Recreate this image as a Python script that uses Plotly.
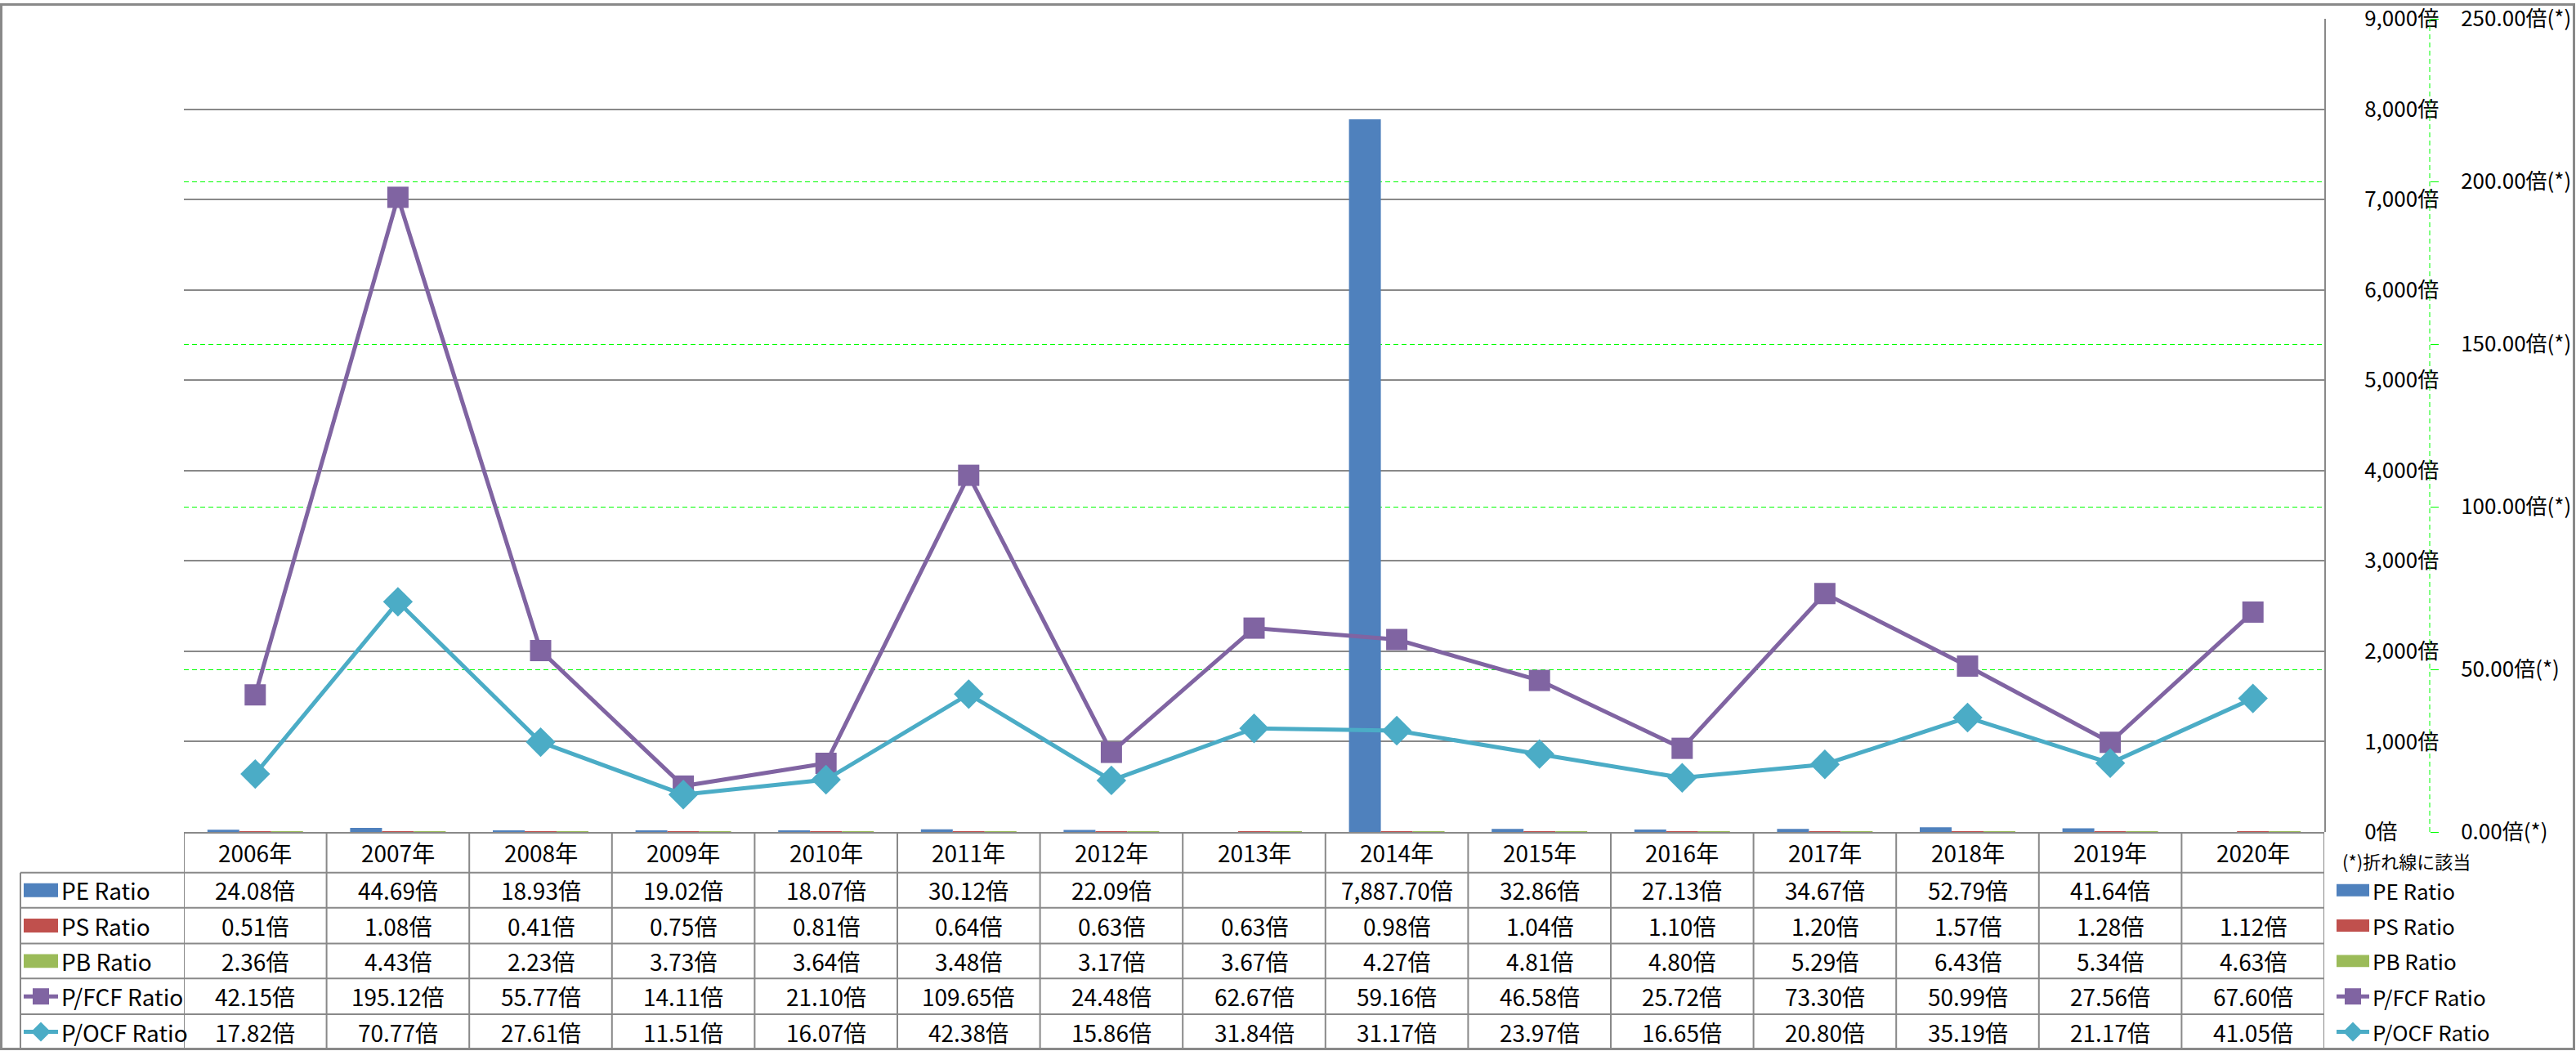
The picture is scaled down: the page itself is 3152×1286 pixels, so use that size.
import plotly.graph_objects as go

# ---------------- data ----------------
years = ["2006年", "2007年", "2008年", "2009年", "2010年", "2011年", "2012年", "2013年",
         "2014年", "2015年", "2016年", "2017年", "2018年", "2019年", "2020年"]
pe_ratio = [24.08, 44.69, 18.93, 19.02, 18.07, 30.12, 22.09, None, 7887.70, 32.86,
            27.13, 34.67, 52.79, 41.64, None]
ps_ratio = [0.51, 1.08, 0.41, 0.75, 0.81, 0.64, 0.63, 0.63, 0.98, 1.04, 1.10, 1.20,
            1.57, 1.28, 1.12]
pb_ratio = [2.36, 4.43, 2.23, 3.73, 3.64, 3.48, 3.17, 3.67, 4.27, 4.81, 4.80, 5.29,
            6.43, 5.34, 4.63]
pfcf_ratio = [42.15, 195.12, 55.77, 14.11, 21.10, 109.65, 24.48, 62.67, 59.16, 46.58,
              25.72, 73.30, 50.99, 27.56, 67.60]
pocf_ratio = [17.82, 70.77, 27.61, 11.51, 16.07, 42.38, 15.86, 31.84, 31.17, 23.97,
              16.65, 20.80, 35.19, 21.17, 41.05]
series_names = ["PE Ratio", "PS Ratio", "PB Ratio", "P/FCF Ratio", "P/OCF Ratio"]

# ---------------- styling ----------------
W, H = 3152, 1286
ML, MR, MT, MB = 225, 2, 19, 268
PW = W - ML - MR
PH = H - MT - MB
PLOT_RIGHT = 2844
FONT = "Noto Sans CJK JP"
GRAY = "#898989"
GREEN = "#00FF00"
C_PE, C_PS, C_PB = "#4F81BD", "#C0504D", "#9BBB59"
C_FCF, C_OCF = "#8064A2", "#4BACC6"
colors = [C_PE, C_PS, C_PB, C_FCF, C_OCF]


def px(x):
    return (x - ML) / PW


def py(y):
    return (H - MB - y) / PH


dom_end = px(PLOT_RIGHT)
y2_pos = px(2973)

idx = list(range(len(years)))

fig = go.Figure()
for name, vals, col in [("PE Ratio", pe_ratio, C_PE), ("PS Ratio", ps_ratio, C_PS),
                        ("PB Ratio", pb_ratio, C_PB)]:
    fig.add_trace(go.Bar(x=idx, y=vals, name=name, marker=dict(color=col, line=dict(width=0)),
                         showlegend=False))

fig.add_trace(go.Scatter(x=idx, y=pfcf_ratio, name="P/FCF Ratio", yaxis="y2",
                         mode="lines+markers", line=dict(color=C_FCF, width=5),
                         marker=dict(symbol="square", size=26, color=C_FCF),
                         showlegend=False))
fig.add_trace(go.Scatter(x=idx, y=pocf_ratio, name="P/OCF Ratio", yaxis="y2",
                         mode="lines+markers", line=dict(color=C_OCF, width=5),
                         marker=dict(symbol="diamond", size=28, color=C_OCF),
                         showlegend=False))

shapes = []
annotations = []

# table geometry
row_bounds = [1019, 1068, 1111, 1155, 1198, 1242, 1285]
hdr_center = (row_bounds[0] + row_bounds[1]) / 2
row_centers = [(row_bounds[i] + row_bounds[i + 1]) / 2 for i in range(1, 6)]
LW = 2

# horizontal table lines
shapes.append(dict(type="line", xref="x", yref="paper", x0=-0.5, x1=len(years) - 0.5,
                   y0=py(row_bounds[0]), y1=py(row_bounds[0]), line=dict(color=GRAY, width=LW),
                   layer="above"))
for yb in row_bounds[1:]:
    shapes.append(dict(type="line", xref="paper", yref="paper", x0=px(25), x1=dom_end,
                       y0=py(yb), y1=py(yb), line=dict(color=GRAY, width=LW), layer="above"))
# vertical table lines
for i in range(len(years) + 1):
    shapes.append(dict(type="line", xref="x", yref="paper", x0=i - 0.5, x1=i - 0.5,
                       y0=py(row_bounds[0]), y1=py(row_bounds[-1]),
                       line=dict(color=GRAY, width=LW), layer="above"))
shapes.append(dict(type="line", xref="paper", yref="paper", x0=px(25), x1=px(25),
                   y0=py(row_bounds[1]), y1=py(row_bounds[-1]),
                   line=dict(color=GRAY, width=LW), layer="above"))

# secondary axis dashed line
shapes.append(dict(type="line", xref="paper", yref="paper", x0=y2_pos, x1=y2_pos, y0=0, y1=1,
                   line=dict(color=GREEN, width=1, dash="6px,4px"), layer="above"))

# outer chart border
shapes.append(dict(type="rect", xref="paper", yref="paper", x0=px(1.5), x1=px(3149.5),
                   y0=py(1284.5), y1=py(1.5), line=dict(color=GRAY, width=3), layer="above"))

TFS = 28
# header
for i, yr in enumerate(years):
    annotations.append(dict(x=i, xref="x", y=py(hdr_center), yref="paper", text=yr,
                            xanchor="center", yanchor="middle",
                            showarrow=False, font=dict(size=TFS, family=FONT, color="black")))

series_vals = [pe_ratio, ps_ratio, pb_ratio, pfcf_ratio, pocf_ratio]


def key_shapes(k, x0, x1, cy, rect_h):
    out = []
    col = colors[k]
    if k < 3:
        out.append(dict(type="rect", xref="paper", yref="paper", x0=px(x0), x1=px(x1),
                        y0=py(cy + rect_h / 2), y1=py(cy - rect_h / 2),
                        fillcolor=col, line=dict(width=0), layer="above"))
    else:
        cx = (x0 + x1) / 2
        out.append(dict(type="line", xref="paper", yref="paper", x0=px(x0), x1=px(x1),
                        y0=py(cy), y1=py(cy), line=dict(color=col, width=5), layer="above"))
        if k == 3:
            r = 10
            out.append(dict(type="rect", xref="paper", yref="paper", x0=px(cx - r), x1=px(cx + r),
                            y0=py(cy + r), y1=py(cy - r), fillcolor=col,
                            line=dict(width=0), layer="above"))
        else:
            r = 12
            path = (f"M {px(cx - r)},{py(cy)} L {px(cx)},{py(cy - r)} "
                    f"L {px(cx + r)},{py(cy)} L {px(cx)},{py(cy + r)} Z")
            out.append(dict(type="path", xref="paper", yref="paper", path=path, fillcolor=col,
                            line=dict(width=0), layer="above"))
    return out


for k, (name, vals) in enumerate(zip(series_names, series_vals)):
    cy = row_centers[k]
    for i, v in enumerate(vals):
        if v is None:
            continue
        annotations.append(dict(x=i, xref="x", y=py(cy), yref="paper", text=f"{v:,.2f}倍",
                                xanchor="center", yanchor="middle", showarrow=False,
                                font=dict(size=TFS, family=FONT, color="black")))
    # row label inside table
    annotations.append(dict(x=px(73), xref="paper", y=py(cy), yref="paper", text=name,
                            xanchor="left", yanchor="middle", showarrow=False,
                            font=dict(size=TFS, family=FONT, color="black")))
    shapes += key_shapes(k, 29, 71, cy, 17)
    # right legend
    annotations.append(dict(x=px(2901), xref="paper", y=py(cy), yref="paper", text=name,
                            xanchor="left", yanchor="middle", showarrow=False,
                            font=dict(size=26, family=FONT, color="black")))
    shapes += key_shapes(k, 2859, 2899, cy, 15)

annotations.append(dict(x=px(2864), xref="paper", y=py(1053), yref="paper",
                        text="(*)折れ線に該当", xanchor="left", yanchor="middle",
                        showarrow=False, font=dict(size=22, family=FONT, color="black")))

fig.update_layout(
    width=W, height=H,
    margin=dict(l=ML, r=MR, t=MT, b=MB, pad=0),
    paper_bgcolor="white", plot_bgcolor="white",
    barmode="group", bargap=0.33, bargroupgap=0,
    font=dict(family=FONT, size=24, color="black"),
    xaxis=dict(domain=[0, dom_end], range=[-0.5, len(years) - 0.5], showgrid=False,
               showticklabels=False, zeroline=False, showline=False, ticks=""),
    yaxis=dict(range=[0, 9000], dtick=1000, tick0=0, side="right", tickformat=",d",
               ticksuffix="倍", showgrid=True, gridcolor=GRAY, gridwidth=1.5, zeroline=False,
               showline=True, linecolor=GRAY, linewidth=2, ticks="",
               ticklabelstandoff=42, ticklabeloverflow="allow",
               tickfont=dict(size=26, family=FONT, color="black")),
    yaxis2=dict(range=[0, 250], dtick=50, tick0=0, overlaying="y", side="right", anchor="free",
                position=y2_pos, tickformat=".2f", ticksuffix="倍(*)",
                showgrid=True, gridcolor=GREEN, gridwidth=1, griddash="6px,4px",
                zeroline=False, showline=False, ticks="outside", ticklen=10,
                tickcolor=GREEN, tickwidth=1, ticklabelstandoff=22, ticklabeloverflow="allow",
                tickfont=dict(size=26, family=FONT, color="black")),
    shapes=shapes,
    annotations=annotations,
)

fig.write_html("out.html")
